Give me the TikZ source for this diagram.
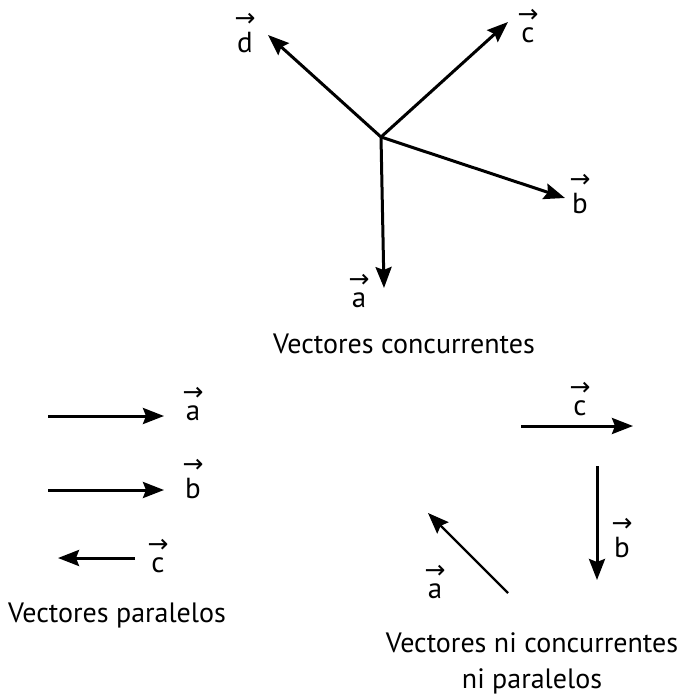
\documentclass[tikz,border=0pt]{standalone}
\usepackage{fontspec}
\setmainfont{PT Sans}
\newfontfamily\arrowfont{DejaVu Sans}
\usepackage{tikz}
\usetikzlibrary{arrows.meta, positioning}
\newcommand{\vlabel}[1]{\shortstack{{\arrowfont\fontsize{25}{25}\selectfont →}\\[2pt]#1}}
\tikzset{
	vecarrow/.style={
			-{Stealth[length=21pt, width=16pt, inset=3pt]},
			line width=3pt,
			black
		},
	veclabel/.style={
			font=\fontsize{29}{32}\selectfont,
			anchor=base,
			inner sep=0pt
		},
	captiontext/.style={
			font=\fontsize{28}{36}\selectfont,
			align=center,
			anchor=base,
			inner sep=0pt
		}
}

\begin{document}
\begin{tikzpicture}[x=1pt, y=-1pt]
  \useasboundingbox (0,0) rectangle (686,699);

  % vectores concurrentes
  \coordinate (o) at (381,137);
  \coordinate (ta) at (384,288);
  \coordinate (tb) at (565,198);
  \coordinate (tc) at (508,22);
  \coordinate (td) at (268,35);
  \draw[vecarrow] (o) -- (ta);
  \draw[vecarrow] (o) -- (tb);
  \draw[vecarrow] (o) -- (tc);
  \draw[vecarrow] (o) -- (td);
  \node[veclabel] (la) at (359,307) {\vlabel{a}};
  \node[veclabel] (lb) at (580,213) {\vlabel{b}};
  \node[veclabel] (lc) at (528,42) {\vlabel{c}};
  \node[veclabel] (ld) at (245,52) {\vlabel{d}};
  \node[captiontext] (cap1) at (404,353) {Vectores concurrentes};

  % vectores paralelos
  \coordinate (pa1) at (48,416);
  \coordinate (pa2) at (164,416);
  \coordinate (pb1) at (48,490);
  \coordinate (pb2) at (164,490);
  \coordinate (pc1) at (135,558);
  \coordinate (pc2) at (58,558);
  \draw[vecarrow] (pa1) -- (pa2);
  \draw[vecarrow] (pb1) -- (pb2);
  \draw[vecarrow] (pc1) -- (pc2);
  \node[veclabel] (pla) at (193,420) {\vlabel{a}};
  \node[veclabel] (plb) at (193,498) {\vlabel{b}};
  \node[veclabel] (plc) at (158,572) {\vlabel{c}};
  \node[captiontext] (cap2) at (117,622) {Vectores paralelos};

  % vectores ni concurrentes ni paralelos
  \coordinate (na1) at (508,593);
  \coordinate (na2) at (428,513);
  \coordinate (nb1) at (597,466);
  \coordinate (nb2) at (597,580);
  \coordinate (nc1) at (521,426);
  \coordinate (nc2) at (633,426);
  \draw[vecarrow, line width=2.2pt] (na1) -- (na2);
  \draw[vecarrow] (nb1) -- (nb2);
  \draw[vecarrow] (nc1) -- (nc2);
  \node[veclabel] (nla) at (435,598) {\vlabel{a}};
  \node[veclabel] (nlb) at (622,557) {\vlabel{b}};
  \node[veclabel] (nlc) at (580,415) {\vlabel{c}};
  \node[captiontext] (cap3) at (532,688) {Vectores ni concurrentes\\ni paralelos};
\end{tikzpicture}
\end{document}
